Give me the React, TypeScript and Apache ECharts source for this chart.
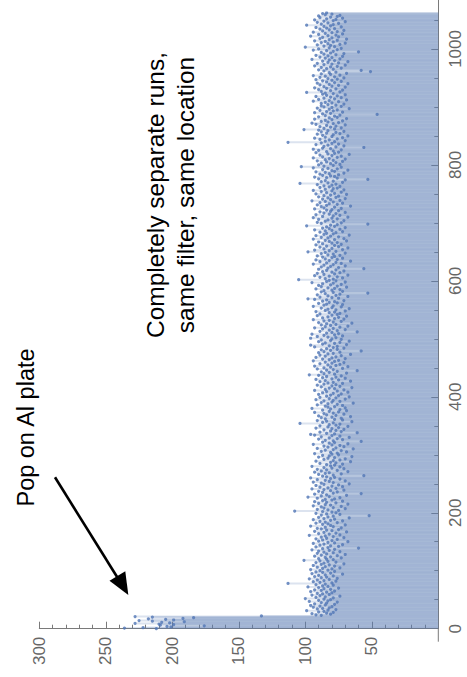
import React, { useEffect, useRef } from "react";
import * as echarts from "echarts";

// Index axis (vertical, 0 at bottom) and value axis (horizontal, 0 at right)
const indexTicks = [0, 200, 400, 600, 800, 1000];
const valueTicks = [50, 100, 150, 200, 250, 300];

// First run segment: "pop on Al plate" (indices 0..22)
const popValues = [
  212, 236, 222, 201, 204, 176, 209, 199, 210, 228, 202, 208, 191, 215, 225, 199,
  205, 218, 192, 184, 215, 228, 133,
];

// Remaining measurements (indices 23..1062)
const runValues = [
  88, 92, 81, 95, 84, 79, 90, 86, 99, 83, 77, 91, 87, 82, 94, 80, 89, 96, 85, 78,
  93, 84, 88, 76, 97, 83, 90, 81, 86, 100, 79, 92, 85, 74, 89, 95, 82, 87, 91, 80,
  84, 96, 78, 88, 93, 81, 86, 75, 90, 98, 83, 87, 79, 92, 85, 113, 80, 89, 94, 77,
  86, 91, 82, 97, 76, 88, 84, 93, 79, 90, 85, 72, 95, 81, 87, 92, 78, 89, 83, 96,
  80, 87, 74, 91, 85, 78, 94, 82, 88, 71, 86, 92, 77, 83, 89, 101, 79, 84, 90, 73,
  85, 81, 93, 76, 88, 70, 84, 91, 79, 86, 74, 90, 82, 95, 78, 87, 60, 83, 92, 75,
  81, 89, 72, 86, 94, 78, 83, 68, 90, 80, 87, 76, 92, 84, 71, 88, 79, 85, 97, 74,
  82, 90, 77, 86, 69, 93, 80, 84, 75, 88, 91, 73, 85, 79, 96, 81, 70, 87, 83, 92,
  76, 85, 89, 72, 81, 94, 78, 86, 67, 90, 83, 79, 52, 88, 74, 84, 92, 77, 80, 87,
  108, 75, 83, 91, 70, 86, 79, 88, 73, 94, 81, 85, 68, 90, 77, 84, 93, 72, 87, 80,
  85, 78, 91, 74, 98, 82, 88, 69, 84, 93, 58, 79, 87, 76, 90, 81, 71, 86, 95, 77,
  83, 89, 72, 80, 92, 75, 86, 67, 88, 79, 94, 82, 70, 85, 91, 74, 81, 96, 78, 84,
  87, 56, 79, 90, 73, 85, 82, 93, 68, 88, 76, 84, 91, 71, 80, 86, 74, 95, 81, 78,
  84, 72, 89, 77, 81, 66, 92, 79, 74, 86, 70, 83, 78, 90, 65, 82, 87, 75, 80, 93,
  76, 81, 69, 88, 73, 85, 79, 64, 91, 77, 83, 71, 86, 74, 80, 94, 68, 82, 78, 87,
  58, 79, 85, 72, 90, 76, 82, 67, 88, 74, 80, 93, 96, 78, 84, 61, 89, 73, 81, 77,
  86, 71, 80, 92, 75, 83, 68, 89, 77, 82, 74, 104, 79, 87, 65, 84, 91, 72, 78, 85,
  73, 88, 80, 66, 90, 77, 84, 71, 86, 79, 93, 75, 82, 69, 87, 74, 81, 95, 70, 83,
  78, 85, 72, 91, 76, 83, 64, 88, 80, 74, 86, 79, 92, 70, 82, 77, 89, 67, 84, 75,
  81, 90, 73, 79, 87, 68, 84, 76, 93, 71, 85, 78, 82, 65, 88, 74, 80, 91, 77, 86,
  72, 83, 79, 89, 66, 85, 75, 92, 80, 70, 87, 77, 84, 73, 90, 97, 78, 86, 69, 82,
  88, 76, 61, 84, 79, 91, 72, 86, 81, 68, 93, 77, 83, 74, 89, 80, 71, 85, 78, 94,
  75, 82, 87, 70, 80, 92, 77, 85, 73, 89, 66, 83, 79, 90, 74, 86, 58, 81, 88, 76,
  84, 71, 79, 93, 76, 82, 96, 69, 87, 78, 85, 74, 90, 67, 81, 88, 73, 80, 96, 77,
  83, 91, 72, 86, 78, 95, 75, 84, 80, 61, 89, 76, 82, 70, 87, 79, 93, 74, 85, 68,
  81, 88, 77, 84, 65, 90, 79, 73, 86, 82, 94, 71, 78, 87, 75, 83, 69, 91, 80, 76,
  89, 74, 82, 78, 92, 70, 85, 77, 83, 67, 88, 80, 73, 94, 79, 86, 72, 84, 90, 76,
  82, 78, 87, 71, 84, 93, 98, 75, 80, 89, 68, 83, 77, 91, 74, 85, 53, 79, 88, 72,
  86, 80, 74, 92, 78, 83, 69, 88, 76, 90, 81, 73, 87, 79, 95, 70, 84, 77, 82, 105,
  79, 85, 72, 89, 76, 82, 93, 68, 86, 78, 91, 74, 80, 87, 71, 84, 77, 90, 56, 83,
  75, 88, 81, 70, 86, 79, 94, 73, 84, 77, 89, 66, 82, 92, 76, 85, 72, 80, 87, 78,
  91, 74, 83, 79, 88, 70, 85, 98, 77, 82, 93, 72, 86, 80, 68, 89, 75, 84, 78, 92,
  73, 87, 80, 76, 90, 82, 69, 85, 78, 94, 71, 83, 88, 75, 81, 92, 67, 86, 79, 84,
  77, 89, 72, 85, 80, 93, 74, 82, 87, 70, 84, 78, 99, 81, 76, 53, 88, 73, 91, 79,
  85, 71, 83, 90, 76, 80, 94, 68, 87, 79, 74, 92, 82, 77, 86, 70, 89, 81, 75, 84,
  80, 93, 73, 86, 78, 88, 66, 84, 91, 76, 82, 72, 89, 79, 85, 95, 74, 81, 87, 70,
  83, 77, 90, 75, 86, 81, 69, 92, 78, 84, 73, 88, 80, 94, 71, 85, 79, 76, 89, 82,
  74, 86, 80, 91, 77, 104, 83, 72, 88, 79, 85, 70, 53, 90, 76, 84, 93, 78, 81, 87,
  75, 89, 82, 71, 85, 92, 78, 80, 68, 87, 76, 83, 94, 73, 103, 86, 79, 90, 74, 81,
  88, 77, 84, 72, 91, 79, 85, 70, 82, 94, 76, 87, 73, 80, 89, 67, 83, 78, 92, 75,
  84, 79, 90, 73, 94, 81, 87, 56, 77, 86, 71, 83, 92, 75, 80, 88, 113, 78, 85, 70,
  82, 89, 76, 93, 72, 85, 80, 68, 87, 79, 91, 74, 84, 77, 88, 71, 83, 90, 101, 78,
  86, 73, 81, 89, 77, 84, 70, 92, 79, 95, 75, 83, 88, 72, 85, 80, 93, 69, 82, 76,
  90, 78, 85, 74, 46, 87, 81, 93, 72, 84, 79, 89, 76, 82, 67, 91, 80, 86, 73, 88,
  77, 83, 71, 88, 80, 85, 75, 94, 82, 69, 90, 78, 86, 73, 81, 92, 76, 84, 70, 87,
  79, 85, 99, 74, 88, 81, 72, 90, 77, 84, 93, 70, 86, 80, 75, 89, 82, 68, 91, 78,
  84, 73, 87, 80, 92, 76, 83, 71, 89, 78, 85, 94, 74, 81, 88, 69, 82, 77, 51, 86,
  58, 90, 79, 84, 73, 88, 81, 76, 93, 70, 86, 80, 91, 75, 83, 68, 87, 78, 82, 95,
  74, 85, 80, 89, 72, 83, 92, 77, 86, 71, 81, 88, 60, 79, 84, 94, 76, 90, 73, 82,
  100, 78, 86, 81, 91, 74, 83, 70, 88, 79, 85, 93, 76, 82, 69, 89, 80, 87, 75, 96,
  83, 77, 90, 72, 85, 80, 94, 76, 87, 71, 82, 89, 78, 84, 92, 73, 86, 81, 99, 79,
  88, 75, 83, 91, 70, 86, 79, 93, 77, 84, 72, 89, 81, 76, 90, 74, 85, 80, 87, 84,
];

const annotationPop = "Pop on Al plate";
const annotationRuns = "Completely separate runs,\nsame filter, same location";

const FONT = "'Liberation Sans', Arial, Helvetica, sans-serif";
const AXIS_COLOR = "#7a7a7a";
const LABEL_COLOR = "#666666";
const POINT_COLOR = "#5075b5";
const FILL_COLOR = "rgba(94,129,181,0.22)";

// The chart div is shifted up so that the index axis can run past the top of the page.
const SHIFT = 70;

export default function App() {
  const ref = useRef<HTMLDivElement>(null);

  useEffect(() => {
    if (!ref.current) return;
    const chart = echarts.init(ref.current, undefined, { renderer: "svg" });
    const allValues = popValues.concat(runValues);
    const points = allValues.map((v, i) => [v, i]);

    chart.setOption({
      animation: false,
      backgroundColor: "#ffffff",
      grid: { left: 39.3, right: 28.7, top: 0.2, bottom: 48.3, containLabel: false },
      xAxis: {
        type: "value",
        min: 0,
        max: 300,
        interval: 50,
        inverse: true,
        axisLine: { show: true, lineStyle: { color: AXIS_COLOR, width: 1 } },
        axisTick: { show: true, inside: true, length: 7, lineStyle: { color: AXIS_COLOR } },
        minorTick: { show: true, splitNumber: 5, length: 4, lineStyle: { color: AXIS_COLOR } },
        splitLine: { show: false },
        axisLabel: {
          rotate: 90,
          margin: 8,
          color: LABEL_COLOR,
          fontSize: 17,
          fontFamily: FONT,
          formatter: (v: number) => (valueTicks.indexOf(v) >= 0 ? String(v) : ""),
        },
      },
      yAxis: {
        type: "value",
        position: "right",
        min: 0,
        max: 1200,
        interval: 200,
        axisLine: { show: true, lineStyle: { color: AXIS_COLOR, width: 1 } },
        axisTick: { show: true, inside: true, length: 7, lineStyle: { color: AXIS_COLOR } },
        minorTick: { show: true, splitNumber: 4, length: 4, lineStyle: { color: AXIS_COLOR } },
        splitLine: { show: false },
        axisLabel: {
          rotate: 90,
          margin: 9,
          color: LABEL_COLOR,
          fontSize: 17,
          fontFamily: FONT,
          formatter: (v: number) => (indexTicks.indexOf(v) >= 0 ? String(v) : ""),
        },
      },
      series: [
        {
          type: "custom",
          silent: true,
          clip: true,
          encode: { x: 0, y: 1 },
          data: points,
          renderItem: (params: any, api: any) => {
            const v = api.value(0);
            const i = api.value(1);
            const p0 = api.coord([0, i]);
            const p1 = api.coord([v, i]);
            return {
              type: "rect",
              shape: { x: p1[0], y: p0[1] - 1, width: p0[0] - p1[0], height: 2 },
              style: { fill: FILL_COLOR },
            };
          },
          z: 1,
        },
        {
          type: "scatter",
          data: points,
          symbol: "circle",
          symbolSize: 3.2,
          silent: true,
          itemStyle: { color: POINT_COLOR },
          z: 3,
        },
      ],
      graphic: [
        {
          type: "line",
          shape: { x1: 438.3, y1: 628.7 + SHIFT, x2: 438.3, y2: 641.7 + SHIFT },
          style: { stroke: AXIS_COLOR, lineWidth: 1 },
        },
        {
          type: "text",
          x: 25.5,
          y: 427.5 + SHIFT,
          rotation: Math.PI / 2,
          style: {
            text: annotationPop,
            font: `23.5px ${FONT}`,
            fill: "#000000",
            align: "center",
            verticalAlign: "middle",
          },
        },
        {
          type: "text",
          x: 170,
          y: 195 + SHIFT,
          rotation: Math.PI / 2,
          style: {
            text: annotationRuns,
            font: `24.5px ${FONT}`,
            fill: "#000000",
            align: "center",
            verticalAlign: "middle",
            lineHeight: 30,
          },
        },
        {
          type: "line",
          shape: { x1: 55, y1: 477.3 + SHIFT, x2: 119, y2: 580 + SHIFT },
          style: { stroke: "#000000", lineWidth: 2.6 },
        },
        {
          type: "polygon",
          shape: {
            points: [
              [128.3, 595 + SHIFT],
              [109.5, 580.7 + SHIFT],
              [125.3, 571.2 + SHIFT],
            ],
          },
          style: { fill: "#000000" },
        },
      ],
    });

    return () => chart.dispose();
  }, []);

  return (
    <div style={{ position: "absolute", left: 0, top: 0, width: 467, height: 677, overflow: "hidden" }}>
      <div
        ref={ref}
        style={{ position: "absolute", left: 0, top: -SHIFT, width: 467, height: 677 + SHIFT }}
      />
    </div>
  );
}
